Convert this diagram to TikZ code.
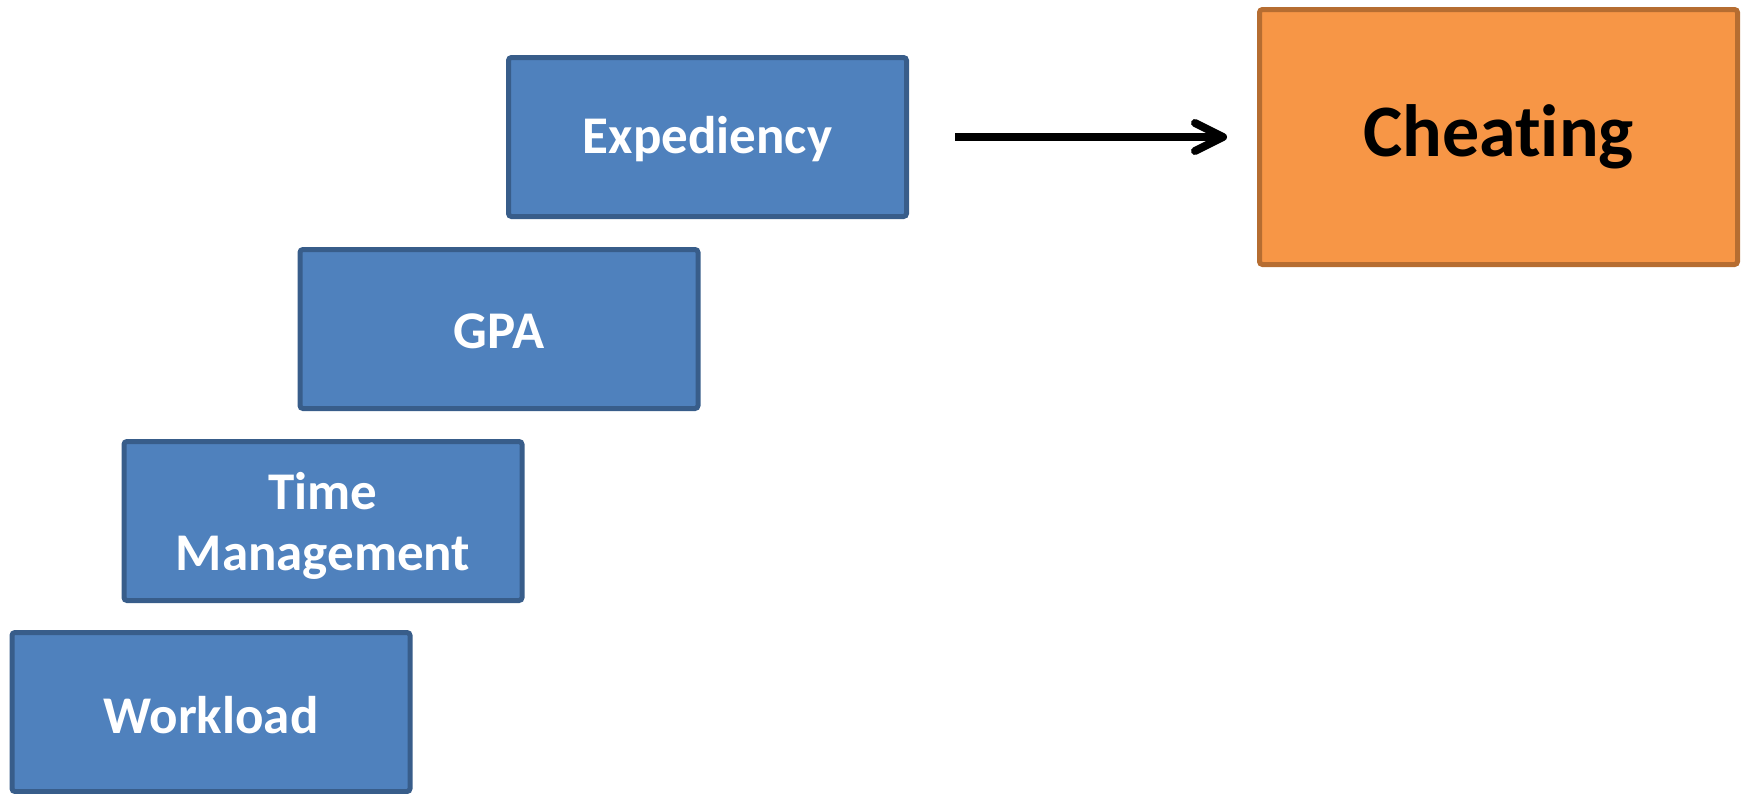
\documentclass[tikz,border=0pt]{standalone}
\usepackage{fontspec}
\setmainfont[Ligatures={NoCommon,NoRequired,NoContextual}]{Carlito}
\usetikzlibrary{arrows.meta}
\definecolor{bluefill}{HTML}{4F81BD}
\definecolor{blueline}{HTML}{385D8A}
\definecolor{orangefill}{HTML}{F79646}
\definecolor{orangeline}{HTML}{B66D31}
\tikzset{
  bluebox/.style={draw=blueline, fill=bluefill, line width=2.5pt, rounded corners=1.5pt,
    minimum width=199pt, minimum height=79.5pt, inner sep=0pt},
  bluetext/.style={text=white, align=center, inner sep=0pt,
    font=\fontsize{26.5}{30.5}\selectfont\bfseries},
  orangebox/.style={draw=orangeline, fill=orangefill, line width=2.5pt, rounded corners=1.5pt,
    minimum width=239pt, minimum height=127.5pt, inner sep=0pt, text=black, align=center,
    font=\fontsize{37}{44}\selectfont\bfseries},
  arr/.style={line width=4pt, -{Straight Barb[length=14pt, width=14pt, line cap=round, line join=round]}}
}
\begin{document}
\begin{tikzpicture}[x=0.5pt, y=-0.5pt]
\useasboundingbox (0,0) rectangle (1743,793);
\node[bluebox, label={[bluetext, yshift=-1.2pt]center:Expediency}] (exp) at (707.5,137) {};
\node[bluebox, label={[bluetext, yshift=-1.2pt]center:GPA}] (gpa) at (499,329) {};
\node[bluebox, label={[bluetext, yshift=-2.5pt]center:Time\\Management}] (tm) at (323,521) {};
\node[bluebox, label={[bluetext, yshift=-1.5pt]center:Workload}] (wl) at (211,712) {};
\node[orangebox] (cheat) at (1498.5,137) {Cheat\kern0pt ing};
\draw[arr, shorten <=23pt, shorten >=15pt] (exp) -- (cheat);
\end{tikzpicture}
\end{document}
